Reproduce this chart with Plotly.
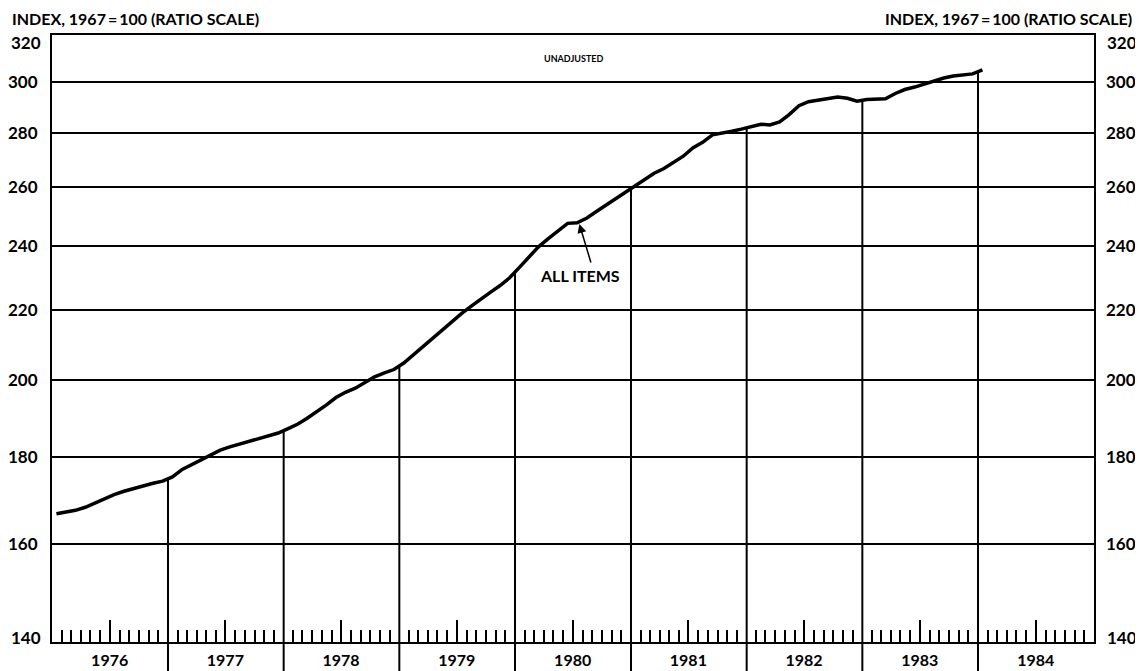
import numpy as np
import pandas as pd
import plotly.graph_objects as go

# Consumer price index, all items, unadjusted (1967 = 100), monthly Jan 1976 - Jan 1984
cpi_1976 = [166.7, 167.1, 167.5, 168.2, 169.2, 170.1, 171.1, 171.9, 172.6, 173.3, 173.8, 174.3]
cpi_1977 = [175.3, 177.1, 178.2, 179.6, 180.6, 181.8, 182.6, 183.3, 184.0, 184.5, 185.4, 186.1]
cpi_1978 = [187.2, 188.4, 189.8, 191.5, 193.3, 195.3, 196.7, 197.8, 199.3, 200.9, 202.0, 202.9]
cpi_1979 = [204.7, 207.1, 209.1, 211.5, 214.1, 216.6, 218.9, 221.1, 223.4, 225.4, 227.5, 229.9]
cpi_1980 = [233.2, 236.4, 239.8, 242.5, 244.9, 247.6, 247.8, 249.4, 251.7, 253.9, 256.2, 258.4]
cpi_1981 = [260.5, 263.2, 265.1, 266.8, 269.0, 271.3, 274.4, 276.5, 279.3, 279.9, 280.7, 281.5]
cpi_1982 = [282.5, 283.4, 283.1, 284.3, 287.1, 290.6, 292.2, 292.8, 293.3, 294.1, 293.6, 292.4]
cpi_1983 = [293.1, 293.2, 293.4, 295.5, 297.1, 298.1, 299.3, 300.3, 301.8, 302.6, 303.1, 303.5]
cpi_1984 = [305.2]

years = list(range(1976, 1985))
year_labels = [str(y) for y in years]
y_ticks = [140, 160, 180, 200, 220, 240, 260, 280, 300, 320]

cpi = cpi_1976 + cpi_1977 + cpi_1978 + cpi_1979 + cpi_1980 + cpi_1981 + cpi_1982 + cpi_1983 + cpi_1984
months = pd.date_range("1976-01-01", periods=len(cpi), freq="MS") + pd.Timedelta(days=14)

FONT = "Lato"
INK = "black"
TICK_SIZE = 17

# year dividers: from the axis up to the index line
boundaries = pd.to_datetime([f"{y}-01-01" for y in years[1:]])
tops = np.interp(boundaries.asi8, months.asi8, np.log10(cpi))
div_x, div_y = [], []
for b, t in zip(boundaries, tops):
    div_x += [b, b, None]
    div_y += [y_ticks[0], 10 ** t, None]

fig = go.Figure()
fig.add_trace(
    go.Scatter(x=div_x, y=div_y, mode="lines", line=dict(color=INK, width=2), hoverinfo="skip")
)
fig.add_trace(
    go.Scatter(x=months, y=cpi, mode="lines", line=dict(color=INK, width=3.5), name="All items")
)
# empty trace so the right-hand scale is drawn
fig.add_trace(go.Scatter(x=[None], y=[None], yaxis="y2", showlegend=False))

month_starts = pd.date_range("1976-02-01", "1984-12-01", freq="MS")
month_starts = [m for m in month_starts if m.month not in (1, 7)]

inner_ticks = y_ticks[1:-1]
y_range = [np.log10(y_ticks[0]), np.log10(y_ticks[-1])]

# the page body adds an 8px margin on the top/left, so the figure is 8px smaller each way
fig.update_layout(
    width=1135,
    height=663,
    autosize=False,
    margin=dict(l=44, r=49, t=27, b=29),
    paper_bgcolor="white",
    plot_bgcolor="white",
    showlegend=False,
    font=dict(family=FONT, color=INK, size=16, weight="bold"),
    xaxis=dict(
        type="date",
        range=["1976-01-01", "1985-01-01"],
        tickvals=[f"{y}-07-01" for y in years],
        ticktext=year_labels,
        ticks="inside",
        ticklen=22,
        tickwidth=1.5,
        tickcolor=INK,
        ticklabelstandoff=3,
        minor=dict(tickvals=month_starts, ticks="inside", ticklen=12, tickwidth=1.5, tickcolor=INK),
        showgrid=False,
        showline=True,
        linewidth=2,
        linecolor=INK,
        mirror=True,
        automargin=False,
        tickfont=dict(size=16),
    ),
    yaxis=dict(
        type="log",
        range=y_range,
        tickvals=inner_ticks,
        ticktext=[str(v) for v in inner_ticks],
        showgrid=True,
        gridcolor=INK,
        gridwidth=2,
        showline=True,
        linewidth=2,
        linecolor=INK,
        mirror=True,
        ticks="",
        ticklabelstandoff=9,
        automargin=False,
        tickfont=dict(size=TICK_SIZE),
    ),
    yaxis2=dict(
        type="log",
        overlaying="y",
        side="right",
        range=y_range,
        tickvals=inner_ticks,
        ticktext=[str(v) for v in inner_ticks],
        showgrid=False,
        showline=False,
        ticks="",
        ticklabelstandoff=11,
        automargin=False,
        tickfont=dict(size=TICK_SIZE),
    ),
)

# the end labels (140, 320) sit nudged inside the frame, on both sides
for v, shift in [(y_ticks[0], 5), (y_ticks[-1], -7)]:
    fig.add_annotation(
        text=str(v), xref="paper", yref="y", x=0, y=np.log10(v), xanchor="right",
        xshift=-9, yshift=shift, showarrow=False, font=dict(size=TICK_SIZE),
    )
    fig.add_annotation(
        text=str(v), xref="paper", yref="y", x=1, y=np.log10(v), xanchor="left",
        xshift=11, yshift=shift, showarrow=False, font=dict(size=TICK_SIZE),
    )

# dividers continue down between the year labels
for b in boundaries:
    fig.add_shape(
        type="line", xref="x", yref="paper", x0=b, x1=b, y0=0, y1=-0.048,
        line=dict(color=INK, width=2),
    )

title = "INDEX, 1967\u2009=\u2009100 (RATIO SCALE)"
fig.add_annotation(
    text=title, xref="paper", yref="paper", x=0, y=1, xanchor="left", yanchor="bottom",
    xshift=-42, yshift=5, showarrow=False, font=dict(size=16),
)
fig.add_annotation(
    text=title, xref="paper", yref="paper", x=1, y=1, xanchor="right", yanchor="bottom",
    xshift=40, yshift=5, showarrow=False, font=dict(size=16),
)
fig.add_annotation(
    text="UNADJUSTED", xref="paper", yref="paper", x=0.5, y=1, yanchor="top",
    yshift=-16, showarrow=False, font=dict(size=9),
)
fig.add_annotation(
    text="ALL ITEMS", x="1980-07-25", y=np.log10(230.5), showarrow=False, font=dict(size=16),
)
fig.add_annotation(
    text="", x="1980-07-22", y=np.log10(247.4), ax=12, ay=40, showarrow=True,
    arrowhead=2, arrowsize=1.2, arrowwidth=1.5, arrowcolor=INK,
)

fig.write_html("out.html")
